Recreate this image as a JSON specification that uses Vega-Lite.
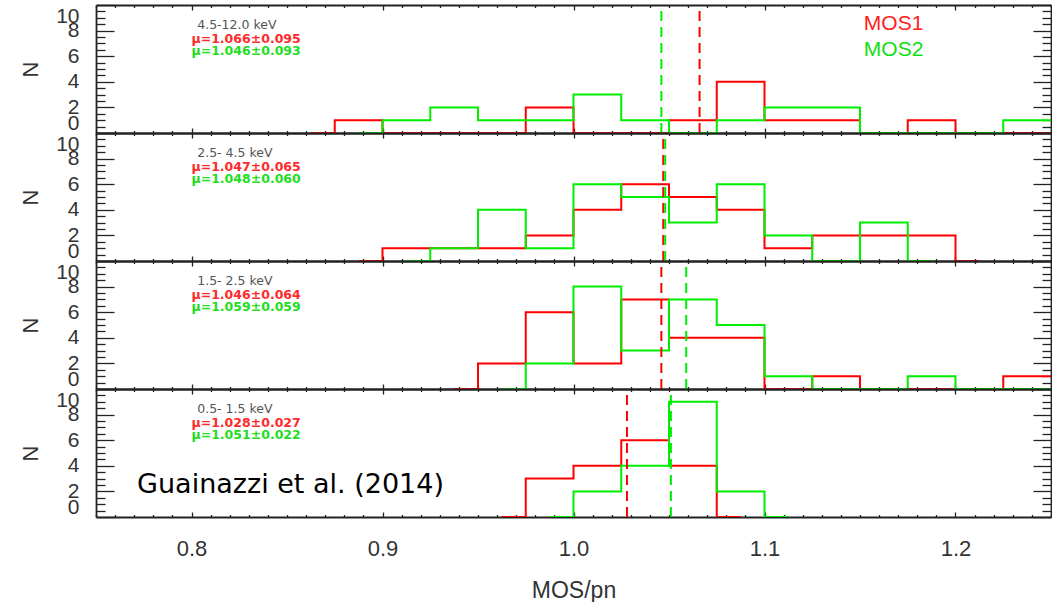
{
  "$schema": "https://vega.github.io/schema/vega-lite/v6.json",
  "background": "white",
  "padding": {"left": 19, "top": 4, "right": 0, "bottom": 0},
  "spacing": 0,
  "bounds": "flush",
  "config": {
    "view": {"stroke": null},
    "axis": {
      "grid": false,
      "domainColor": "#222",
      "domainWidth": 1.8,
      "tickColor": "#222",
      "tickWidth": 1.3,
      "labelFont": "Liberation Sans",
      "labelFontSize": 21,
      "labelColor": "#333",
      "titleFont": "Liberation Sans",
      "titleFontSize": 22,
      "titleFontWeight": "normal",
      "titleColor": "#333"
    }
  },
  "datasets": {
    "hist": [
      {"panel": 1, "series": "MOS1", "x": 0.8625, "n": 0},
      {"panel": 1, "series": "MOS1", "x": 0.8875, "n": 1},
      {"panel": 1, "series": "MOS1", "x": 0.9125, "n": 0},
      {"panel": 1, "series": "MOS1", "x": 0.9375, "n": 0},
      {"panel": 1, "series": "MOS1", "x": 0.9625, "n": 0},
      {"panel": 1, "series": "MOS1", "x": 0.9875, "n": 2},
      {"panel": 1, "series": "MOS1", "x": 1.0125, "n": 0},
      {"panel": 1, "series": "MOS1", "x": 1.0375, "n": 0},
      {"panel": 1, "series": "MOS1", "x": 1.0625, "n": 1},
      {"panel": 1, "series": "MOS1", "x": 1.0875, "n": 4},
      {"panel": 1, "series": "MOS1", "x": 1.1125, "n": 1},
      {"panel": 1, "series": "MOS1", "x": 1.1375, "n": 1},
      {"panel": 1, "series": "MOS1", "x": 1.1625, "n": 0},
      {"panel": 1, "series": "MOS1", "x": 1.1875, "n": 1},
      {"panel": 1, "series": "MOS1", "x": 1.2125, "n": 0},
      {"panel": 1, "series": "MOS1", "x": 1.2375, "n": 0},
      {"panel": 1, "series": "MOS1", "x": 1.2625, "n": 0},
      {"panel": 1, "series": "MOS2", "x": 0.8875, "n": 0},
      {"panel": 1, "series": "MOS2", "x": 0.9125, "n": 1},
      {"panel": 1, "series": "MOS2", "x": 0.9375, "n": 2},
      {"panel": 1, "series": "MOS2", "x": 0.9625, "n": 1},
      {"panel": 1, "series": "MOS2", "x": 0.9875, "n": 1},
      {"panel": 1, "series": "MOS2", "x": 1.0125, "n": 3},
      {"panel": 1, "series": "MOS2", "x": 1.0375, "n": 1},
      {"panel": 1, "series": "MOS2", "x": 1.0625, "n": 0},
      {"panel": 1, "series": "MOS2", "x": 1.0875, "n": 1},
      {"panel": 1, "series": "MOS2", "x": 1.1125, "n": 2},
      {"panel": 1, "series": "MOS2", "x": 1.1375, "n": 2},
      {"panel": 1, "series": "MOS2", "x": 1.1625, "n": 0},
      {"panel": 1, "series": "MOS2", "x": 1.1875, "n": 0},
      {"panel": 1, "series": "MOS2", "x": 1.2125, "n": 0},
      {"panel": 1, "series": "MOS2", "x": 1.2375, "n": 1},
      {"panel": 1, "series": "MOS2", "x": 1.2625, "n": 1},

      {"panel": 2, "series": "MOS1", "x": 0.8875, "n": 0},
      {"panel": 2, "series": "MOS1", "x": 0.9125, "n": 1},
      {"panel": 2, "series": "MOS1", "x": 0.9375, "n": 1},
      {"panel": 2, "series": "MOS1", "x": 0.9625, "n": 1},
      {"panel": 2, "series": "MOS1", "x": 0.9875, "n": 2},
      {"panel": 2, "series": "MOS1", "x": 1.0125, "n": 4},
      {"panel": 2, "series": "MOS1", "x": 1.0375, "n": 6},
      {"panel": 2, "series": "MOS1", "x": 1.0625, "n": 5},
      {"panel": 2, "series": "MOS1", "x": 1.0875, "n": 4},
      {"panel": 2, "series": "MOS1", "x": 1.1125, "n": 1},
      {"panel": 2, "series": "MOS1", "x": 1.1375, "n": 2},
      {"panel": 2, "series": "MOS1", "x": 1.1625, "n": 2},
      {"panel": 2, "series": "MOS1", "x": 1.1875, "n": 2},
      {"panel": 2, "series": "MOS1", "x": 1.2125, "n": 0},
      {"panel": 2, "series": "MOS2", "x": 0.9125, "n": 0},
      {"panel": 2, "series": "MOS2", "x": 0.9375, "n": 1},
      {"panel": 2, "series": "MOS2", "x": 0.9625, "n": 4},
      {"panel": 2, "series": "MOS2", "x": 0.9875, "n": 1},
      {"panel": 2, "series": "MOS2", "x": 1.0125, "n": 6},
      {"panel": 2, "series": "MOS2", "x": 1.0375, "n": 5},
      {"panel": 2, "series": "MOS2", "x": 1.0625, "n": 3},
      {"panel": 2, "series": "MOS2", "x": 1.0875, "n": 6},
      {"panel": 2, "series": "MOS2", "x": 1.1125, "n": 2},
      {"panel": 2, "series": "MOS2", "x": 1.1375, "n": 0},
      {"panel": 2, "series": "MOS2", "x": 1.1625, "n": 3},
      {"panel": 2, "series": "MOS2", "x": 1.1875, "n": 0},

      {"panel": 3, "series": "MOS1", "x": 0.9375, "n": 0},
      {"panel": 3, "series": "MOS1", "x": 0.9625, "n": 2},
      {"panel": 3, "series": "MOS1", "x": 0.9875, "n": 6},
      {"panel": 3, "series": "MOS1", "x": 1.0125, "n": 2},
      {"panel": 3, "series": "MOS1", "x": 1.0375, "n": 7},
      {"panel": 3, "series": "MOS1", "x": 1.0625, "n": 4},
      {"panel": 3, "series": "MOS1", "x": 1.0875, "n": 4},
      {"panel": 3, "series": "MOS1", "x": 1.1125, "n": 0},
      {"panel": 3, "series": "MOS1", "x": 1.1375, "n": 1},
      {"panel": 3, "series": "MOS1", "x": 1.1625, "n": 0},
      {"panel": 3, "series": "MOS1", "x": 1.1875, "n": 0},
      {"panel": 3, "series": "MOS1", "x": 1.2125, "n": 0},
      {"panel": 3, "series": "MOS1", "x": 1.2375, "n": 1},
      {"panel": 3, "series": "MOS1", "x": 1.2625, "n": 1},
      {"panel": 3, "series": "MOS2", "x": 0.9625, "n": 0},
      {"panel": 3, "series": "MOS2", "x": 0.9875, "n": 2},
      {"panel": 3, "series": "MOS2", "x": 1.0125, "n": 8},
      {"panel": 3, "series": "MOS2", "x": 1.0375, "n": 3},
      {"panel": 3, "series": "MOS2", "x": 1.0625, "n": 7},
      {"panel": 3, "series": "MOS2", "x": 1.0875, "n": 5},
      {"panel": 3, "series": "MOS2", "x": 1.1125, "n": 1},
      {"panel": 3, "series": "MOS2", "x": 1.1375, "n": 0},
      {"panel": 3, "series": "MOS2", "x": 1.1625, "n": 0},
      {"panel": 3, "series": "MOS2", "x": 1.1875, "n": 1},
      {"panel": 3, "series": "MOS2", "x": 1.2125, "n": 0},
      {"panel": 3, "series": "MOS2", "x": 1.2375, "n": 0},
      {"panel": 3, "series": "MOS2", "x": 1.2625, "n": 0},

      {"panel": 4, "series": "MOS1", "x": 0.9625, "n": 0},
      {"panel": 4, "series": "MOS1", "x": 0.9875, "n": 3},
      {"panel": 4, "series": "MOS1", "x": 1.0125, "n": 4},
      {"panel": 4, "series": "MOS1", "x": 1.0375, "n": 6},
      {"panel": 4, "series": "MOS1", "x": 1.0625, "n": 4},
      {"panel": 4, "series": "MOS1", "x": 1.0875, "n": 0},
      {"panel": 4, "series": "MOS2", "x": 0.9875, "n": 0},
      {"panel": 4, "series": "MOS2", "x": 1.0125, "n": 2},
      {"panel": 4, "series": "MOS2", "x": 1.0375, "n": 4},
      {"panel": 4, "series": "MOS2", "x": 1.0625, "n": 9},
      {"panel": 4, "series": "MOS2", "x": 1.0875, "n": 2},
      {"panel": 4, "series": "MOS2", "x": 1.1125, "n": 0}
    ],
    "means": [
      {"panel": 1, "series": "MOS1", "mean": 1.066},
      {"panel": 1, "series": "MOS2", "mean": 1.046},
      {"panel": 2, "series": "MOS1", "mean": 1.047},
      {"panel": 2, "series": "MOS2", "mean": 1.048},
      {"panel": 3, "series": "MOS1", "mean": 1.046},
      {"panel": 3, "series": "MOS2", "mean": 1.059},
      {"panel": 4, "series": "MOS1", "mean": 1.028},
      {"panel": 4, "series": "MOS2", "mean": 1.051}
    ],
    "labels": [
      {"panel": 1, "band": "4.5-12.0 keV", "mu1": "μ=1.066±0.095", "mu2": "μ=1.046±0.093"},
      {"panel": 2, "band": "2.5- 4.5 keV", "mu1": "μ=1.047±0.065", "mu2": "μ=1.048±0.060"},
      {"panel": 3, "band": "1.5- 2.5 keV", "mu1": "μ=1.046±0.064", "mu2": "μ=1.059±0.059"},
      {"panel": 4, "band": "0.5- 1.5 keV", "mu1": "μ=1.028±0.027", "mu2": "μ=1.051±0.022"}
    ]
  },
  "vconcat": [
    {
      "width": 955, "height": 128,
      "resolve": {"axis": {"x": "independent", "y": "independent"}},
      "layer": [
        {
          "data": {"name": "hist"},
          "transform": [{"filter": "datum.panel === 1"}],
          "mark": {"type": "line", "interpolate": "step", "strokeWidth": 2, "clip": true},
          "encoding": {
            "x": {"field": "x", "type": "quantitative", "scale": {"domain": [0.75, 1.25], "nice": false, "zero": false},
              "axis": {"orient": "bottom", "values": [0.8, 0.9, 1, 1.1, 1.2], "labels": false, "title": null, "tickSize": -5}},
            "y": {"field": "n", "type": "quantitative", "scale": {"domain": [0, 10], "nice": false},
              "axis": {"orient": "left", "values": [0, 2, 4, 6, 8, 10], "labelFlush": true, "labelOverlap": false, "labelBound": false, "tickSize": -18, "labelPadding": 35, "title": "N", "titlePadding": 13}},
            "color": {"field": "series", "type": "nominal", "scale": {"domain": ["MOS1", "MOS2"], "range": ["#ff0000", "#00ee00"]}, "legend": null}
          }
        },
        {
          "data": {"name": "means"},
          "transform": [{"filter": "datum.panel === 1"}],
          "mark": {"type": "rule", "strokeDash": [10, 6], "strokeWidth": 2},
          "encoding": {
            "x": {"field": "mean", "type": "quantitative",
              "axis": {"orient": "top", "values": [0.8, 0.9, 1, 1.1, 1.2], "labels": false, "title": null, "tickSize": -5}},
            "y": {"datum": 0, "type": "quantitative",
              "axis": {"orient": "right", "values": [0, 2, 4, 6, 8, 10], "labels": false, "title": null, "tickSize": -18}},
            "y2": {"datum": 10},
            "color": {"field": "series", "type": "nominal", "legend": null}
          }
        },
        {
          "data": {"name": "labels"},
          "transform": [{"filter": "datum.panel === 1"}],
          "mark": {"type": "text", "align": "left", "baseline": "middle", "font": "DejaVu Sans", "fontSize": 12.5, "color": "#555"},
          "encoding": {
            "x": {"datum": 0.803, "type": "quantitative",
              "axis": {"orient": "bottom", "values": [0.75,0.76,0.77,0.78,0.79,0.81,0.82,0.83,0.84,0.85,0.86,0.87,0.88,0.89,0.91,0.92,0.93,0.94,0.95,0.96,0.97,0.98,0.99,1.01,1.02,1.03,1.04,1.05,1.06,1.07,1.08,1.09,1.11,1.12,1.13,1.14,1.15,1.16,1.17,1.18,1.19,1.21,1.22,1.23,1.24,1.25], "labels": false, "title": null, "domain": false, "tickSize": -2.5}},
            "y": {"datum": 8.44, "type": "quantitative",
              "axis": {"orient": "left", "values": [0.5,1,1.5,2.5,3,3.5,4.5,5,5.5,6.5,7,7.5,8.5,9,9.5], "labels": false, "title": null, "domain": false, "tickSize": -9}},
            "text": {"field": "band"}
          }
        },
        {
          "data": {"name": "labels"},
          "transform": [{"filter": "datum.panel === 1"}],
          "mark": {"type": "text", "align": "left", "baseline": "middle", "font": "DejaVu Sans", "fontSize": 12.5, "fontWeight": "bold", "color": "#ff2a2a"},
          "encoding": {
            "x": {"datum": 0.8, "type": "quantitative",
              "axis": {"orient": "top", "values": [0.75,0.76,0.77,0.78,0.79,0.81,0.82,0.83,0.84,0.85,0.86,0.87,0.88,0.89,0.91,0.92,0.93,0.94,0.95,0.96,0.97,0.98,0.99,1.01,1.02,1.03,1.04,1.05,1.06,1.07,1.08,1.09,1.11,1.12,1.13,1.14,1.15,1.16,1.17,1.18,1.19,1.21,1.22,1.23,1.24,1.25], "labels": false, "title": null, "domain": false, "tickSize": -2.5}},
            "y": {"datum": 7.38, "type": "quantitative",
              "axis": {"orient": "right", "values": [0.5,1,1.5,2.5,3,3.5,4.5,5,5.5,6.5,7,7.5,8.5,9,9.5], "labels": false, "title": null, "domain": false, "tickSize": -9}},
            "text": {"field": "mu1"}
          }
        },
        {
          "data": {"name": "labels"},
          "transform": [{"filter": "datum.panel === 1"}],
          "mark": {"type": "text", "align": "left", "baseline": "middle", "font": "DejaVu Sans", "fontSize": 12.5, "fontWeight": "bold", "color": "#22dd22"},
          "encoding": {"x": {"datum": 0.8, "type": "quantitative", "axis": null}, "y": {"datum": 6.41, "type": "quantitative", "axis": null}, "text": {"field": "mu2"}}
        },
        {
          "data": {"name": "labels"},
          "transform": [{"filter": "datum.panel === 1"}],
          "mark": {"type": "text", "align": "left", "baseline": "middle", "font": "Liberation Sans", "fontSize": 21, "color": "#ff2020"},
          "encoding": {"x": {"datum": 1.152, "type": "quantitative", "axis": null}, "y": {"datum": 8.5, "type": "quantitative", "axis": null}, "text": {"value": "MOS1"}}
        },
        {
          "data": {"name": "labels"},
          "transform": [{"filter": "datum.panel === 1"}],
          "mark": {"type": "text", "align": "left", "baseline": "middle", "font": "Liberation Sans", "fontSize": 21, "color": "#10e010"},
          "encoding": {"x": {"datum": 1.152, "type": "quantitative", "axis": null}, "y": {"datum": 6.45, "type": "quantitative", "axis": null}, "text": {"value": "MOS2"}}
        }
      ]
    },
    {
      "width": 955, "height": 128,
      "resolve": {"axis": {"x": "independent", "y": "independent"}},
      "layer": [
        {
          "data": {"name": "hist"},
          "transform": [{"filter": "datum.panel === 2"}],
          "mark": {"type": "line", "interpolate": "step", "strokeWidth": 2, "clip": true},
          "encoding": {
            "x": {"field": "x", "type": "quantitative", "scale": {"domain": [0.75, 1.25], "nice": false, "zero": false},
              "axis": {"orient": "bottom", "values": [0.8, 0.9, 1, 1.1, 1.2], "labels": false, "title": null, "tickSize": -5}},
            "y": {"field": "n", "type": "quantitative", "scale": {"domain": [0, 10], "nice": false},
              "axis": {"orient": "left", "values": [0, 2, 4, 6, 8, 10], "labelFlush": true, "labelOverlap": false, "labelBound": false, "tickSize": -18, "labelPadding": 35, "title": "N", "titlePadding": 13}},
            "color": {"field": "series", "type": "nominal", "scale": {"domain": ["MOS1", "MOS2"], "range": ["#ff0000", "#00ee00"]}, "legend": null}
          }
        },
        {
          "data": {"name": "means"},
          "transform": [{"filter": "datum.panel === 2"}],
          "mark": {"type": "rule", "strokeDash": [10, 6], "strokeWidth": 2},
          "encoding": {
            "x": {"field": "mean", "type": "quantitative",
              "axis": {"orient": "top", "values": [0.8, 0.9, 1, 1.1, 1.2], "labels": false, "title": null, "tickSize": -5}},
            "y": {"datum": 0, "type": "quantitative",
              "axis": {"orient": "right", "values": [0, 2, 4, 6, 8, 10], "labels": false, "title": null, "tickSize": -18}},
            "y2": {"datum": 10},
            "color": {"field": "series", "type": "nominal", "legend": null}
          }
        },
        {
          "data": {"name": "labels"},
          "transform": [{"filter": "datum.panel === 2"}],
          "mark": {"type": "text", "align": "left", "baseline": "middle", "font": "DejaVu Sans", "fontSize": 12.5, "color": "#555"},
          "encoding": {
            "x": {"datum": 0.803, "type": "quantitative",
              "axis": {"orient": "bottom", "values": [0.75,0.76,0.77,0.78,0.79,0.81,0.82,0.83,0.84,0.85,0.86,0.87,0.88,0.89,0.91,0.92,0.93,0.94,0.95,0.96,0.97,0.98,0.99,1.01,1.02,1.03,1.04,1.05,1.06,1.07,1.08,1.09,1.11,1.12,1.13,1.14,1.15,1.16,1.17,1.18,1.19,1.21,1.22,1.23,1.24,1.25], "labels": false, "title": null, "domain": false, "tickSize": -2.5}},
            "y": {"datum": 8.44, "type": "quantitative",
              "axis": {"orient": "left", "values": [0.5,1,1.5,2.5,3,3.5,4.5,5,5.5,6.5,7,7.5,8.5,9,9.5], "labels": false, "title": null, "domain": false, "tickSize": -9}},
            "text": {"field": "band"}
          }
        },
        {
          "data": {"name": "labels"},
          "transform": [{"filter": "datum.panel === 2"}],
          "mark": {"type": "text", "align": "left", "baseline": "middle", "font": "DejaVu Sans", "fontSize": 12.5, "fontWeight": "bold", "color": "#ff2a2a"},
          "encoding": {
            "x": {"datum": 0.8, "type": "quantitative",
              "axis": {"orient": "top", "values": [0.75,0.76,0.77,0.78,0.79,0.81,0.82,0.83,0.84,0.85,0.86,0.87,0.88,0.89,0.91,0.92,0.93,0.94,0.95,0.96,0.97,0.98,0.99,1.01,1.02,1.03,1.04,1.05,1.06,1.07,1.08,1.09,1.11,1.12,1.13,1.14,1.15,1.16,1.17,1.18,1.19,1.21,1.22,1.23,1.24,1.25], "labels": false, "title": null, "domain": false, "tickSize": -2.5}},
            "y": {"datum": 7.38, "type": "quantitative",
              "axis": {"orient": "right", "values": [0.5,1,1.5,2.5,3,3.5,4.5,5,5.5,6.5,7,7.5,8.5,9,9.5], "labels": false, "title": null, "domain": false, "tickSize": -9}},
            "text": {"field": "mu1"}
          }
        },
        {
          "data": {"name": "labels"},
          "transform": [{"filter": "datum.panel === 2"}],
          "mark": {"type": "text", "align": "left", "baseline": "middle", "font": "DejaVu Sans", "fontSize": 12.5, "fontWeight": "bold", "color": "#22dd22"},
          "encoding": {"x": {"datum": 0.8, "type": "quantitative", "axis": null}, "y": {"datum": 6.41, "type": "quantitative", "axis": null}, "text": {"field": "mu2"}}
        }
      ]
    },
    {
      "width": 955, "height": 128,
      "resolve": {"axis": {"x": "independent", "y": "independent"}},
      "layer": [
        {
          "data": {"name": "hist"},
          "transform": [{"filter": "datum.panel === 3"}],
          "mark": {"type": "line", "interpolate": "step", "strokeWidth": 2, "clip": true},
          "encoding": {
            "x": {"field": "x", "type": "quantitative", "scale": {"domain": [0.75, 1.25], "nice": false, "zero": false},
              "axis": {"orient": "bottom", "values": [0.8, 0.9, 1, 1.1, 1.2], "labels": false, "title": null, "tickSize": -5}},
            "y": {"field": "n", "type": "quantitative", "scale": {"domain": [0, 10], "nice": false},
              "axis": {"orient": "left", "values": [0, 2, 4, 6, 8, 10], "labelFlush": true, "labelOverlap": false, "labelBound": false, "tickSize": -18, "labelPadding": 35, "title": "N", "titlePadding": 13}},
            "color": {"field": "series", "type": "nominal", "scale": {"domain": ["MOS1", "MOS2"], "range": ["#ff0000", "#00ee00"]}, "legend": null}
          }
        },
        {
          "data": {"name": "means"},
          "transform": [{"filter": "datum.panel === 3"}],
          "mark": {"type": "rule", "strokeDash": [10, 6], "strokeWidth": 2},
          "encoding": {
            "x": {"field": "mean", "type": "quantitative",
              "axis": {"orient": "top", "values": [0.8, 0.9, 1, 1.1, 1.2], "labels": false, "title": null, "tickSize": -5}},
            "y": {"datum": 0, "type": "quantitative",
              "axis": {"orient": "right", "values": [0, 2, 4, 6, 8, 10], "labels": false, "title": null, "tickSize": -18}},
            "y2": {"datum": 10},
            "color": {"field": "series", "type": "nominal", "legend": null}
          }
        },
        {
          "data": {"name": "labels"},
          "transform": [{"filter": "datum.panel === 3"}],
          "mark": {"type": "text", "align": "left", "baseline": "middle", "font": "DejaVu Sans", "fontSize": 12.5, "color": "#555"},
          "encoding": {
            "x": {"datum": 0.803, "type": "quantitative",
              "axis": {"orient": "bottom", "values": [0.75,0.76,0.77,0.78,0.79,0.81,0.82,0.83,0.84,0.85,0.86,0.87,0.88,0.89,0.91,0.92,0.93,0.94,0.95,0.96,0.97,0.98,0.99,1.01,1.02,1.03,1.04,1.05,1.06,1.07,1.08,1.09,1.11,1.12,1.13,1.14,1.15,1.16,1.17,1.18,1.19,1.21,1.22,1.23,1.24,1.25], "labels": false, "title": null, "domain": false, "tickSize": -2.5}},
            "y": {"datum": 8.44, "type": "quantitative",
              "axis": {"orient": "left", "values": [0.5,1,1.5,2.5,3,3.5,4.5,5,5.5,6.5,7,7.5,8.5,9,9.5], "labels": false, "title": null, "domain": false, "tickSize": -9}},
            "text": {"field": "band"}
          }
        },
        {
          "data": {"name": "labels"},
          "transform": [{"filter": "datum.panel === 3"}],
          "mark": {"type": "text", "align": "left", "baseline": "middle", "font": "DejaVu Sans", "fontSize": 12.5, "fontWeight": "bold", "color": "#ff2a2a"},
          "encoding": {
            "x": {"datum": 0.8, "type": "quantitative",
              "axis": {"orient": "top", "values": [0.75,0.76,0.77,0.78,0.79,0.81,0.82,0.83,0.84,0.85,0.86,0.87,0.88,0.89,0.91,0.92,0.93,0.94,0.95,0.96,0.97,0.98,0.99,1.01,1.02,1.03,1.04,1.05,1.06,1.07,1.08,1.09,1.11,1.12,1.13,1.14,1.15,1.16,1.17,1.18,1.19,1.21,1.22,1.23,1.24,1.25], "labels": false, "title": null, "domain": false, "tickSize": -2.5}},
            "y": {"datum": 7.38, "type": "quantitative",
              "axis": {"orient": "right", "values": [0.5,1,1.5,2.5,3,3.5,4.5,5,5.5,6.5,7,7.5,8.5,9,9.5], "labels": false, "title": null, "domain": false, "tickSize": -9}},
            "text": {"field": "mu1"}
          }
        },
        {
          "data": {"name": "labels"},
          "transform": [{"filter": "datum.panel === 3"}],
          "mark": {"type": "text", "align": "left", "baseline": "middle", "font": "DejaVu Sans", "fontSize": 12.5, "fontWeight": "bold", "color": "#22dd22"},
          "encoding": {"x": {"datum": 0.8, "type": "quantitative", "axis": null}, "y": {"datum": 6.41, "type": "quantitative", "axis": null}, "text": {"field": "mu2"}}
        }
      ]
    },
    {
      "width": 955, "height": 128,
      "resolve": {"axis": {"x": "independent", "y": "independent"}},
      "layer": [
        {
          "data": {"name": "hist"},
          "transform": [{"filter": "datum.panel === 4"}],
          "mark": {"type": "line", "interpolate": "step", "strokeWidth": 2, "clip": true},
          "encoding": {
            "x": {"field": "x", "type": "quantitative", "scale": {"domain": [0.75, 1.25], "nice": false, "zero": false},
              "axis": {"orient": "bottom", "values": [0.8, 0.9, 1, 1.1, 1.2], "format": ".1f", "labelFontSize": 22, "labelOverlap": false, "labelBound": false, "labelFlush": false, "tickSize": -5, "labelPadding": 26, "title": "MOS/pn", "titleFontSize": 23, "titlePadding": 20}},
            "y": {"field": "n", "type": "quantitative", "scale": {"domain": [0, 10], "nice": false},
              "axis": {"orient": "left", "values": [0, 2, 4, 6, 8, 10], "labelFlush": true, "labelOverlap": false, "labelBound": false, "tickSize": -18, "labelPadding": 35, "title": "N", "titlePadding": 13}},
            "color": {"field": "series", "type": "nominal", "scale": {"domain": ["MOS1", "MOS2"], "range": ["#ff0000", "#00ee00"]}, "legend": null}
          }
        },
        {
          "data": {"name": "means"},
          "transform": [{"filter": "datum.panel === 4"}],
          "mark": {"type": "rule", "strokeDash": [10, 6], "strokeWidth": 2},
          "encoding": {
            "x": {"field": "mean", "type": "quantitative",
              "axis": {"orient": "top", "values": [0.8, 0.9, 1, 1.1, 1.2], "labels": false, "title": null, "tickSize": -5}},
            "y": {"datum": 0, "type": "quantitative",
              "axis": {"orient": "right", "values": [0, 2, 4, 6, 8, 10], "labels": false, "title": null, "tickSize": -18}},
            "y2": {"datum": 10},
            "color": {"field": "series", "type": "nominal", "legend": null}
          }
        },
        {
          "data": {"name": "labels"},
          "transform": [{"filter": "datum.panel === 4"}],
          "mark": {"type": "text", "align": "left", "baseline": "middle", "font": "DejaVu Sans", "fontSize": 12.5, "color": "#555"},
          "encoding": {
            "x": {"datum": 0.803, "type": "quantitative",
              "axis": {"orient": "bottom", "values": [0.75,0.76,0.77,0.78,0.79,0.81,0.82,0.83,0.84,0.85,0.86,0.87,0.88,0.89,0.91,0.92,0.93,0.94,0.95,0.96,0.97,0.98,0.99,1.01,1.02,1.03,1.04,1.05,1.06,1.07,1.08,1.09,1.11,1.12,1.13,1.14,1.15,1.16,1.17,1.18,1.19,1.21,1.22,1.23,1.24,1.25], "labels": false, "title": null, "domain": false, "tickSize": -2.5}},
            "y": {"datum": 8.44, "type": "quantitative",
              "axis": {"orient": "left", "values": [0.5,1,1.5,2.5,3,3.5,4.5,5,5.5,6.5,7,7.5,8.5,9,9.5], "labels": false, "title": null, "domain": false, "tickSize": -9}},
            "text": {"field": "band"}
          }
        },
        {
          "data": {"name": "labels"},
          "transform": [{"filter": "datum.panel === 4"}],
          "mark": {"type": "text", "align": "left", "baseline": "middle", "font": "DejaVu Sans", "fontSize": 12.5, "fontWeight": "bold", "color": "#ff2a2a"},
          "encoding": {
            "x": {"datum": 0.8, "type": "quantitative",
              "axis": {"orient": "top", "values": [0.75,0.76,0.77,0.78,0.79,0.81,0.82,0.83,0.84,0.85,0.86,0.87,0.88,0.89,0.91,0.92,0.93,0.94,0.95,0.96,0.97,0.98,0.99,1.01,1.02,1.03,1.04,1.05,1.06,1.07,1.08,1.09,1.11,1.12,1.13,1.14,1.15,1.16,1.17,1.18,1.19,1.21,1.22,1.23,1.24,1.25], "labels": false, "title": null, "domain": false, "tickSize": -2.5}},
            "y": {"datum": 7.38, "type": "quantitative",
              "axis": {"orient": "right", "values": [0.5,1,1.5,2.5,3,3.5,4.5,5,5.5,6.5,7,7.5,8.5,9,9.5], "labels": false, "title": null, "domain": false, "tickSize": -9}},
            "text": {"field": "mu1"}
          }
        },
        {
          "data": {"name": "labels"},
          "transform": [{"filter": "datum.panel === 4"}],
          "mark": {"type": "text", "align": "left", "baseline": "middle", "font": "DejaVu Sans", "fontSize": 12.5, "fontWeight": "bold", "color": "#22dd22"},
          "encoding": {"x": {"datum": 0.8, "type": "quantitative", "axis": null}, "y": {"datum": 6.41, "type": "quantitative", "axis": null}, "text": {"field": "mu2"}}
        },
        {
          "data": {"name": "labels"},
          "transform": [{"filter": "datum.panel === 4"}],
          "mark": {"type": "text", "align": "left", "baseline": "alphabetic", "font": "DejaVu Sans", "fontSize": 27, "color": "#000"},
          "encoding": {"x": {"datum": 0.7715, "type": "quantitative", "axis": null}, "y": {"datum": 1.875, "type": "quantitative", "axis": null}, "text": {"value": "Guainazzi et al. (2014)"}}
        }
      ]
    }
  ]
}
